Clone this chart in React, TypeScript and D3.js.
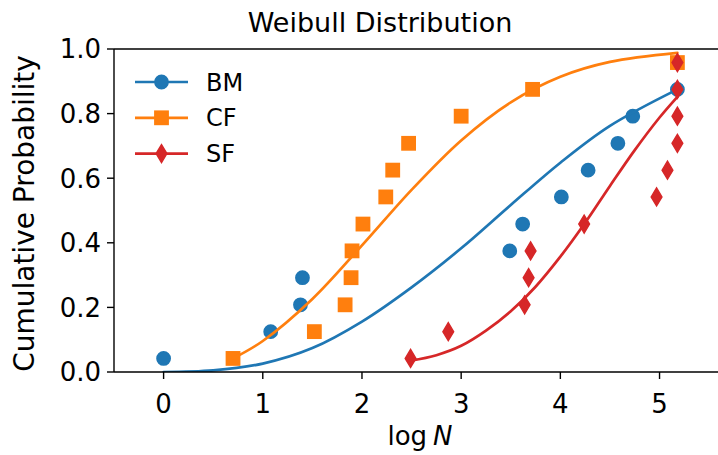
import React from 'react';
import * as d3 from 'd3';

// scatter points (log N, cumulative probability)
const bmLogN = [0, 1.08, 1.38, 1.4, 3.49, 3.62, 4.01, 4.28, 4.58, 4.73, 5.18];
const bmProb = [0.042, 0.125, 0.208, 0.292, 0.375, 0.458, 0.542, 0.625, 0.708, 0.792, 0.875];
const cfLogN = [0.7, 1.52, 1.83, 1.89, 1.9, 2.01, 2.24, 2.31, 2.47, 3.0, 3.72, 5.18];
const cfProb = [0.042, 0.125, 0.208, 0.292, 0.375, 0.458, 0.542, 0.625, 0.708, 0.792, 0.875, 0.958];
const sfLogN = [2.49, 2.87, 3.64, 3.68, 3.7, 4.24, 4.97, 5.08, 5.18, 5.18, 5.18, 5.18];
const sfProb = [0.042, 0.125, 0.208, 0.292, 0.375, 0.458, 0.542, 0.625, 0.708, 0.792, 0.875, 0.958];

// fitted weibull curves
const bmFitLogN = [0, 0.5, 1, 1.5, 2, 2.5, 3, 3.5, 4, 4.5, 5.18];
const bmFitProb = [0, 0.005, 0.026, 0.074, 0.156, 0.262, 0.383, 0.517, 0.648, 0.762, 0.875];
const cfFitLogN = [0.7, 1, 1.5, 2, 2.5, 3, 3.5, 4, 4.5, 5.18];
const cfFitProb = [0.042, 0.096, 0.226, 0.392, 0.564, 0.717, 0.835, 0.914, 0.96, 0.988];
const sfFitLogN = [2.49, 2.75, 3, 3.25, 3.5, 3.75, 4, 4.25, 4.5, 4.75, 5, 5.18];
const sfFitProb = [0.035, 0.052, 0.081, 0.128, 0.188, 0.264, 0.357, 0.462, 0.576, 0.687, 0.788, 0.852];

const xTicks = [0, 1, 2, 3, 4, 5];
const yTicks = [0, 0.2, 0.4, 0.6, 0.8, 1.0];
const labels = ['BM', 'CF', 'SF'];

const width = 718;
const height = 455;
const margin = { left: 114, top: 49, right: 726, bottom: 372 };
const font = "'DejaVu Sans', sans-serif";
const colors = ['#1f77b4', '#ff7f0e', '#d62728'];

const zip = (xs: number[], ys: number[]) => xs.map((x, i) => [x, ys[i]] as [number, number]);

const Marker = ({ kind, color }: { kind: number; color: string }) => {
  if (kind === 0) return <circle r={6.6} fill={color} stroke={color} strokeWidth={1.6} />;
  if (kind === 1) return <rect x={-6.6} y={-6.6} width={13.2} height={13.2} fill={color} stroke={color} strokeWidth={1.6} />;
  return <path d="M0,-9 L5.4,0 L0,9 L-5.4,0 Z" fill={color} stroke={color} strokeWidth={1.4} />;
};

export default function App() {
  const x = d3.scaleLinear().domain([-0.5, 5.67]).range([margin.left, margin.right]);
  const y = d3.scaleLinear().domain([0, 1]).range([margin.bottom, margin.top]);
  const line = d3
    .line<[number, number]>()
    .x((d) => x(d[0]))
    .y((d) => y(d[1]))
    .curve(d3.curveCatmullRom.alpha(0.5));

  const series = [
    { pts: zip(bmLogN, bmProb), fit: zip(bmFitLogN, bmFitProb) },
    { pts: zip(cfLogN, cfProb), fit: zip(cfFitLogN, cfFitProb) },
    { pts: zip(sfLogN, sfProb), fit: zip(sfFitLogN, sfFitProb) },
  ];

  return (
    <svg
      width={width}
      height={height}
      style={{ position: 'absolute', left: 0, top: 0, background: '#fff' }}
      fontFamily={font}
    >
      <defs>
        <clipPath id="plot">
          <rect x={margin.left} y={margin.top} width={margin.right - margin.left} height={margin.bottom - margin.top} />
        </clipPath>
      </defs>

      {/* series: points then fitted line */}
      <g clipPath="url(#plot)">
        {series.map((s, i) => (
          <g key={labels[i]}>
            {s.pts.map((p, j) => (
              <g key={j} transform={`translate(${x(p[0])},${y(p[1])})`}>
                <Marker kind={i} color={colors[i]} />
              </g>
            ))}
            <path d={line(s.fit) || ''} fill="none" stroke={colors[i]} strokeWidth={2.7} strokeLinecap="round" />
          </g>
        ))}
      </g>

      {/* spines */}
      <line x1={margin.left} x2={margin.left} y1={margin.top} y2={margin.bottom} stroke="#000" strokeWidth={1.4} />
      <line x1={margin.left} x2={width + 10} y1={margin.top} y2={margin.top} stroke="#000" strokeWidth={1.4} />
      <line x1={margin.left} x2={width + 10} y1={margin.bottom} y2={margin.bottom} stroke="#000" strokeWidth={1.4} />

      {/* x axis */}
      {xTicks.map((t) => (
        <g key={t} transform={`translate(${x(t)},${margin.bottom})`}>
          <line y1={0} y2={7} stroke="#000" strokeWidth={1.4} />
          <text y={41} textAnchor="middle" fontSize={26} fill="#000">
            {t}
          </text>
        </g>
      ))}
      <text x={420} y={445} textAnchor="middle" fontSize={26} fill="#000">
        log<tspan dx={6} fontStyle="italic">N</tspan>
      </text>

      {/* y axis */}
      {yTicks.map((t) => (
        <g key={t} transform={`translate(${margin.left},${y(t)})`}>
          <line x1={0} x2={-7} stroke="#000" strokeWidth={1.4} />
          <text x={-13} dy="0.36em" textAnchor="end" fontSize={26} fill="#000">
            {t.toFixed(1)}
          </text>
        </g>
      ))}
      <text transform={`translate(34,${(margin.top + margin.bottom) / 2 + 3}) rotate(-90)`} textAnchor="middle" fontSize={28} fill="#000">
        Cumulative Probability
      </text>

      {/* title */}
      <text x={380} y={32} textAnchor="middle" fontSize={27} fill="#000">
        Weibull Distribution
      </text>

      {/* legend */}
      {labels.map((l, i) => (
        <g key={l} transform={`translate(135,${82 + i * 35.8})`}>
          <line x1={0} x2={53} stroke={colors[i]} strokeWidth={2.7} />
          <g transform="translate(26.5,0)">
            <Marker kind={i} color={colors[i]} />
          </g>
          <text x={71} dy="0.36em" fontSize={24} fill="#000">
            {l}
          </text>
        </g>
      ))}
    </svg>
  );
}
